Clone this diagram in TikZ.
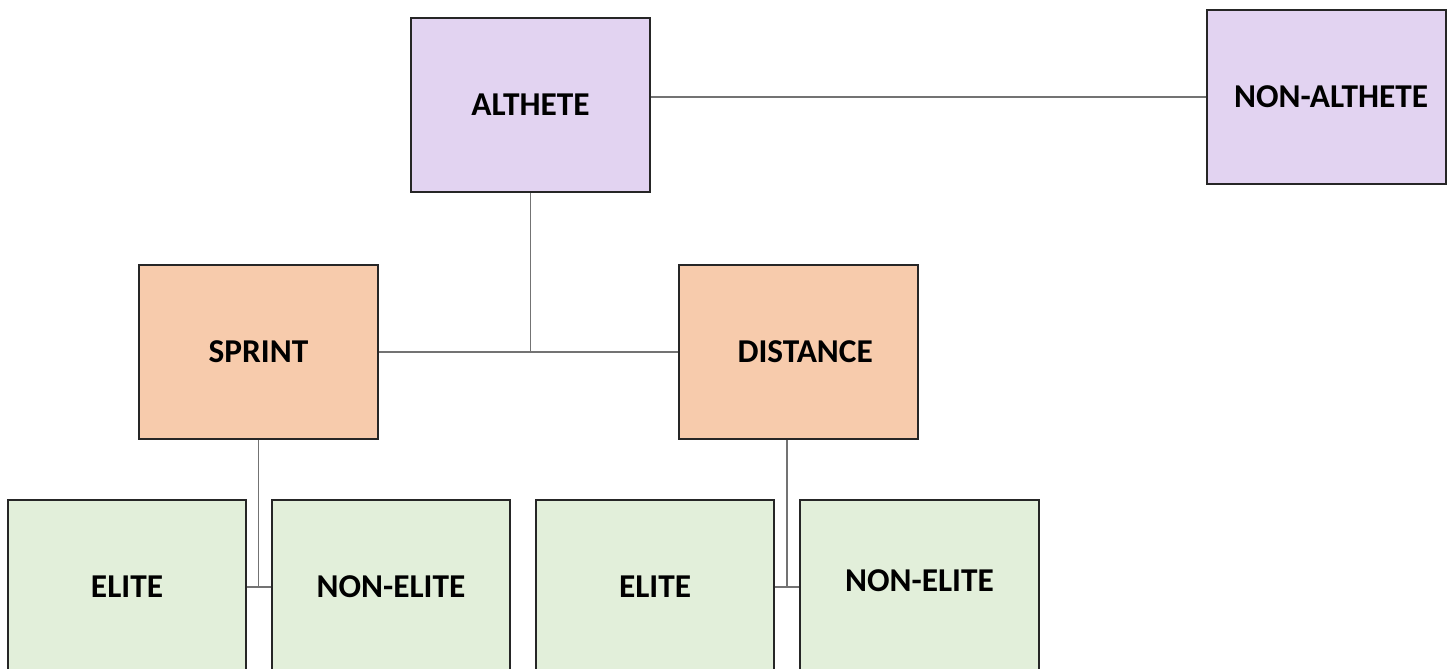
\documentclass[tikz,border=0pt]{standalone}
\usepackage{fontspec}
\setmainfont{Carlito}
\usetikzlibrary{positioning, calc}
\definecolor{athColor}{HTML}{E2D3F1}
\definecolor{typeColor}{HTML}{F7CBAC}
\definecolor{levelColor}{HTML}{E2EFDA}
\colorlet{drawColor}{black!85}
\tikzstyle{boxText}=[font=\fontsize{25}{29}\selectfont\bfseries]
\tikzstyle{box}=[rectangle, minimum width=179pt, minimum height=130.5pt,
  line width=1.4pt, draw=drawColor, inner sep=0pt, boxText]
\tikzstyle{fAth}=[box, fill=athColor]
\tikzstyle{fType}=[box, fill=typeColor]
\tikzstyle{fLevel}=[box, fill=levelColor]
\tikzstyle{link}=[line width=0.8pt, draw=black!55]

\begin{document}
\begin{tikzpicture}[x=0.75pt, y=-0.75pt]
      \clip (0,0) rectangle (1448,668);
      \fill[white] (0,0) rectangle (1448,668);
      % top level
      \node(althete) [fAth] at (530.5,105) {ALTHETE};
      \node(nonalthete) [fAth, label={[boxText, xshift=3.5pt]center:NON-ALTHETE}] at (1326.5,97) {};
      \draw [link] (nonalthete.west) -- (nonalthete.west -| althete.east);
      % event type
      \node(sprint) [fType] at (258.5,352) {SPRINT};
      \node(distance) [fType, label={[boxText, xshift=5pt]center:DISTANCE}] at (798.5,352) {};
      \draw [link] (sprint.east) -- (distance.west);
      \draw [link] (althete.south) -- (althete.south |- sprint.east);
      % level
      \node(eliteS) [fLevel] at (127,587) {ELITE};
      \node(nonEliteS) [fLevel] at (391,587) {NON-ELITE};
      \node(eliteD) [fLevel] at (655,587) {ELITE};
      \node(nonEliteD) [fLevel, label={[boxText, yshift=5pt]center:NON-ELITE}] at (919.5,587) {};
      \draw [link] (eliteS.east) -- (nonEliteS.west);
      \draw [link] (sprint.south) -- (sprint.south |- eliteS.east);
      \draw [link] (eliteD.east) -- (nonEliteD.west);
      \draw [link] (distance.south -| 787,0) -- (787,0 |- eliteD.east);
    \end{tikzpicture}
\end{document}
